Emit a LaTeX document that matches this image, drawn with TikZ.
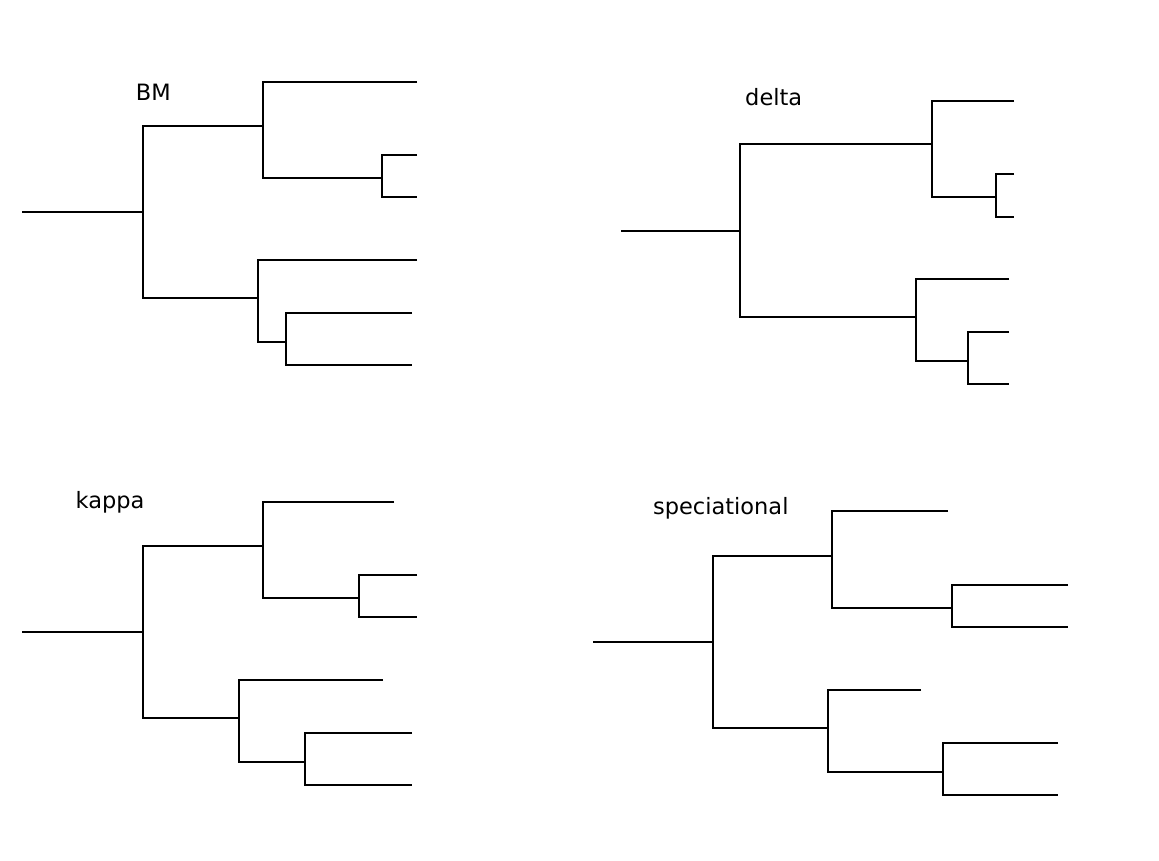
\documentclass[tikz,border=0pt]{standalone}
\usepackage{fontspec}
\setmainfont{DejaVu Sans}
\usetikzlibrary{positioning}

\begin{document}
\begin{tikzpicture}[
    x=1pt, y=-1pt,
    every node/.style={font=\fontsize{22.5}{27}\selectfont, inner sep=0pt},
    branch/.style={line width=2.6pt, black},
    treelabel/.style={anchor=base}
]
\useasboundingbox (0,0) rectangle (1159,860);

% === BM (top left) ===

% internal nodes
\coordinate (bmroot) at (22,212);
\coordinate (bm0) at (143,212);
\coordinate (bm1) at (263,126);
\coordinate (bm2) at (258,298);
\coordinate (bm11) at (382,178);
\coordinate (bm21) at (286,342);

% tips
\coordinate (bmA) at (417,82);
\coordinate (bmB) at (417,155);
\coordinate (bmC) at (417,197);
\coordinate (bmD) at (417,260);
\coordinate (bmE) at (412,313);
\coordinate (bmF) at (412,365);

\draw[branch] (bmroot) -- (bm0);
\draw[branch] (bm1) -| (bm0) |- (bm2);
\draw[branch] (bmA) -| (bm1) |- (bm11);
\draw[branch] (bmB) -| (bm11) |- (bmC);
\draw[branch] (bmD) -| (bm2) |- (bm21);
\draw[branch] (bmE) -| (bm21) |- (bmF);

\node[treelabel] (bmlabel) at (153.3,100) {BM};

% === DELTA (top right) ===

% internal nodes
\coordinate (droot) at (621,231);
\coordinate (d0) at (740,231);
\coordinate (d1) at (932,144);
\coordinate (d2) at (916,317);
\coordinate (d11) at (996,197);
\coordinate (d21) at (968,361);

% tips
\coordinate (dA) at (1014,101);
\coordinate (dB) at (1014,174);
\coordinate (dC) at (1014,217);
\coordinate (dD) at (1009,279);
\coordinate (dE) at (1009,332);
\coordinate (dF) at (1009,384);

\draw[branch] (droot) -- (d0);
\draw[branch] (d1) -| (d0) |- (d2);
\draw[branch] (dA) -| (d1) |- (d11);
\draw[branch] (dB) -| (d11) |- (dC);
\draw[branch] (dD) -| (d2) |- (d21);
\draw[branch] (dE) -| (d21) |- (dF);

\node[treelabel] (dlabel) at (773.7,105) {delta};

% === KAPPA (bottom left) ===

% internal nodes
\coordinate (kroot) at (22,632);
\coordinate (k0) at (143,632);
\coordinate (k1) at (263,546);
\coordinate (k2) at (239,718);
\coordinate (k11) at (359,598);
\coordinate (k21) at (305,762);

% tips
\coordinate (kA) at (394,502);
\coordinate (kB) at (417,575);
\coordinate (kC) at (417,617);
\coordinate (kD) at (383,680);
\coordinate (kE) at (412,733);
\coordinate (kF) at (412,785);

\draw[branch] (kroot) -- (k0);
\draw[branch] (k1) -| (k0) |- (k2);
\draw[branch] (kA) -| (k1) |- (k11);
\draw[branch] (kB) -| (k11) |- (kC);
\draw[branch] (kD) -| (k2) |- (k21);
\draw[branch] (kE) -| (k21) |- (kF);

\node[treelabel] (klabel) at (110,508) {kappa};

% === SPECIATIONAL (bottom right) ===

% internal nodes
\coordinate (sroot) at (593,642);
\coordinate (s0) at (713,642);
\coordinate (s1) at (832,556);
\coordinate (s2) at (828,728);
\coordinate (s11) at (952,608);
\coordinate (s21) at (943,772);

% tips
\coordinate (sA) at (948,511);
\coordinate (sB) at (1068,585);
\coordinate (sC) at (1068,627);
\coordinate (sD) at (921,690);
\coordinate (sE) at (1058,743);
\coordinate (sF) at (1058,795);

\draw[branch] (sroot) -- (s0);
\draw[branch] (s1) -| (s0) |- (s2);
\draw[branch] (sA) -| (s1) |- (s11);
\draw[branch] (sB) -| (s11) |- (sC);
\draw[branch] (sD) -| (s2) |- (s21);
\draw[branch] (sE) -| (s21) |- (sF);

\node[treelabel] (slabel) at (720.8,514) {speciational};

\end{tikzpicture}
\end{document}
